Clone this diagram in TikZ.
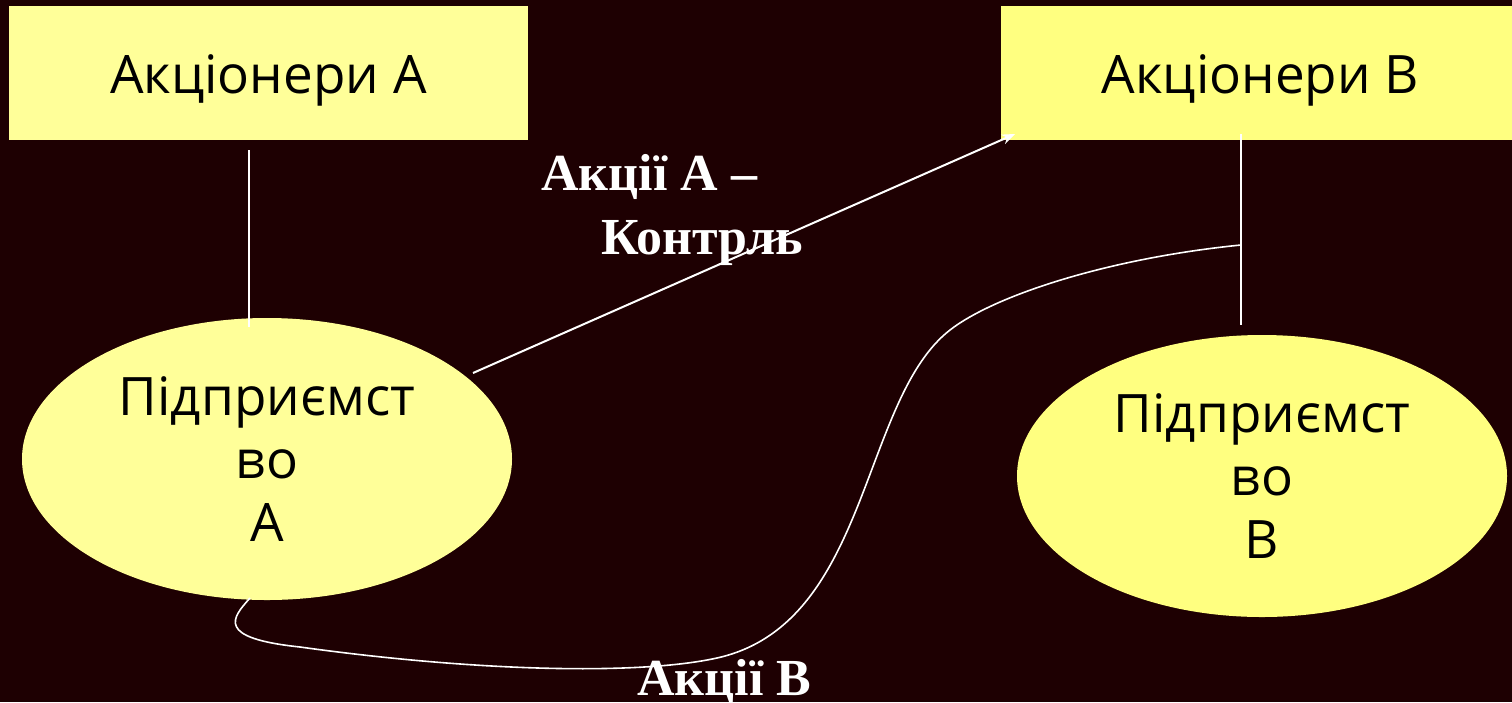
\documentclass[tikz,border=0pt]{standalone}
\usepackage{fontspec}
\setmainfont{Liberation Serif}
\newfontfamily\labelsans{Open Sans}
\usetikzlibrary{shapes.geometric,arrows.meta}
\definecolor{bgdark}{RGB}{30,0,2}
\definecolor{paleyellow}{RGB}{255,255,153}
\definecolor{brightyellow}{RGB}{255,255,128}

\begin{document}
\begin{tikzpicture}[x=1pt,y=-1pt,
  holder/.style={rectangle, minimum width=519pt, minimum height=134pt,
    inner sep=0pt, text height=40pt, text depth=0pt,
    font=\labelsans\fontsize{53}{63}\selectfont, text=black},
  firm/.style={ellipse, minimum width=490pt, minimum height=282pt,
    inner sep=0pt, align=center, text=black,
    font=\labelsans\fontsize{53}{63}\selectfont},
  link/.style={white, line width=2pt},
  caption/.style={text=white, inner sep=0pt, align=left,
    font=\bfseries\fontsize{52}{64}\selectfont}]

% canvas
\fill[bgdark] (0,0) rectangle (1512,702);
\useasboundingbox (0,0) rectangle (1512,702);

% shareholders
\node[holder, fill=paleyellow]   (boxA) at (268.5,73)  {Акціонери А};
\node[holder, fill=brightyellow] (boxB) at (1260.5,73) {Акціонери В};

% companies
\node[firm, fill=paleyellow]   (entA) at (267,459)  {Підприємст\\во\\А};
\node[firm, fill=brightyellow] (entB) at (1262,476) {Підприємст\\во\\В};

% connector end points
\coordinate (aTop)    at (249,150);
\coordinate (aLow)    at (249,327);
\coordinate (bTop)    at (1241,134);
\coordinate (bLow)    at (1241,325);
\coordinate (bJoin)   at (1241,245);
\coordinate (aEdge)   at (473,373);
\coordinate (bCorner) at (1015,134);
\coordinate (aBottom) at (250,598);

% ownership lines
\draw[link] (aTop) -- (aLow);
\draw[link] (bTop) -- (bLow);

% A's shares held by B's shareholders
\draw[link, -{Stealth[length=13pt,width=10pt]}] (aEdge) -- (bCorner);
\node[caption, anchor=north west] (capA) at (541,154)
  {Акції А –\\\hspace*{60pt}Контрль};

% B's shares held by company A
\draw[link, line width=1.6pt] (aBottom)
  .. controls (232,618) and (215,638) .. (300,647)
  .. controls (480,672) and (640,675) .. (717,658)
  .. controls (870,624) and (860,400) .. (950,330)
  .. controls (995,295) and (1110,258) .. (bJoin);
\node[caption, anchor=base west] (capB) at (637,695) {Акції В};
\end{tikzpicture}
\end{document}
